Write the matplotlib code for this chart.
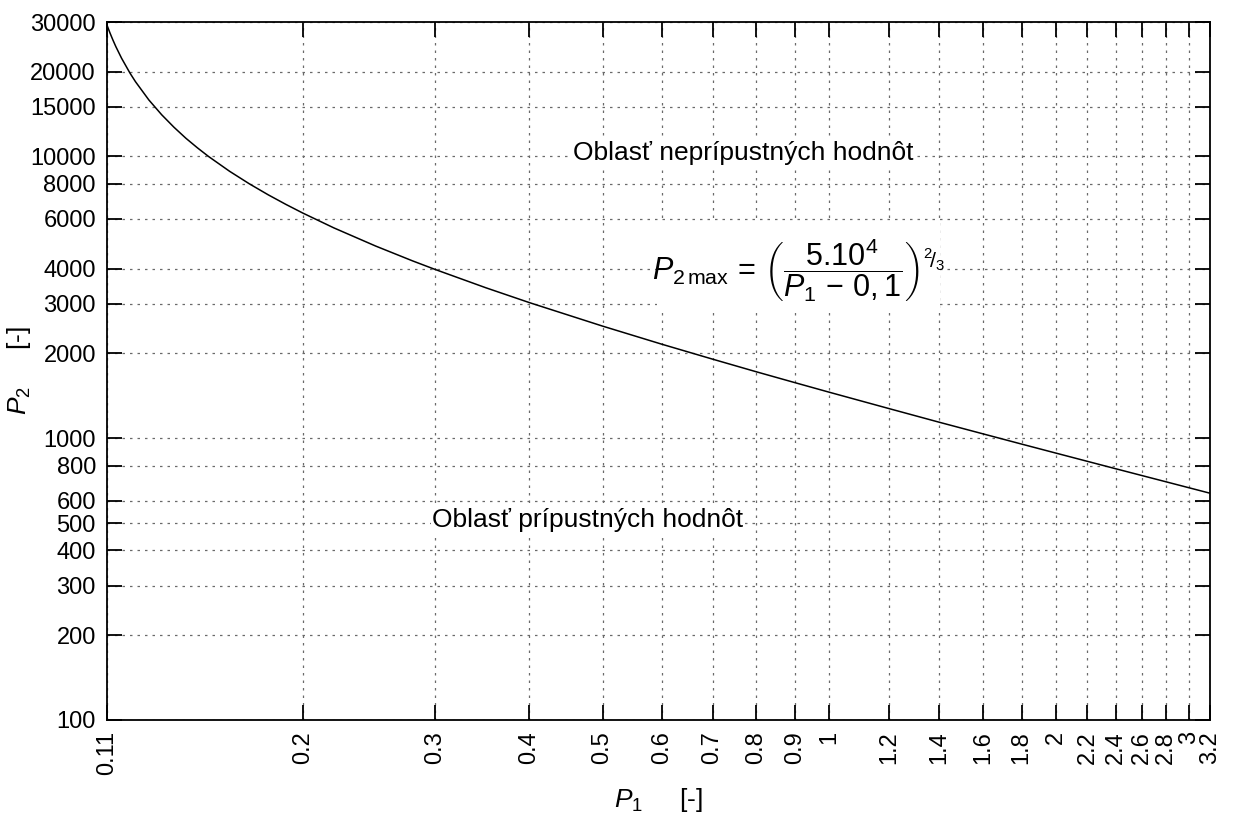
import numpy as np
import matplotlib
matplotlib.use("Agg")
import matplotlib.pyplot as plt
from matplotlib.patches import Rectangle

plt.rcParams['font.family'] = ['Liberation Sans', 'DejaVu Sans']
plt.rcParams['mathtext.fontset'] = 'custom'
plt.rcParams['mathtext.rm'] = 'Liberation Sans'
plt.rcParams['mathtext.it'] = 'Liberation Sans:italic'
plt.rcParams['mathtext.bf'] = 'Liberation Sans:bold'

# curve
p1 = [0.11, 0.111, 0.112, 0.113, 0.115, 0.118, 0.12, 0.125, 0.13, 0.135, 0.14,
      0.145, 0.15, 0.16, 0.17, 0.18, 0.19, 0.2, 0.22, 0.25, 0.28, 0.3, 0.35,
      0.4, 0.5, 0.6, 0.7, 0.8, 0.9, 1.0, 1.2, 1.4, 1.6, 1.8, 2.0, 2.4, 2.8, 3.2]
p2 = [29240, 27440, 25900, 24550, 22320, 19760, 18420, 15870, 14060, 12690, 11600,
      10730, 10000, 8856, 7991, 7310, 6759, 6300, 5578, 4808, 4257, 3969, 3420,
      3028, 2500, 2154, 1908, 1721, 1575, 1456, 1274, 1139, 1036, 953, 885, 779, 700, 638]

xticks = [0.11, 0.2, 0.3, 0.4, 0.5, 0.6, 0.7, 0.8, 0.9, 1, 1.2, 1.4, 1.6,
          1.8, 2, 2.2, 2.4, 2.6, 2.8, 3, 3.2]
xlabels = ["0.11", "0.2", "0.3", "0.4", "0.5", "0.6", "0.7", "0.8", "0.9", "1",
           "1.2", "1.4", "1.6", "1.8", "2", "2.2", "2.4", "2.6", "2.8", "3", "3.2"]
yticks = [100, 200, 300, 400, 500, 600, 800, 1000, 2000, 3000, 4000, 6000,
          8000, 10000, 15000, 20000, 30000]

fig = plt.figure(figsize=(12.54, 8.23), dpi=100)
ax = fig.add_axes([107/1254, 1-720/823, (1210-107)/1254, (720-22)/823])
ax.set_xscale('log')
ax.set_yscale('log')
ax.set_xlim(0.11, 3.2)
ax.set_ylim(100, 30000)

ax.plot(p1, p2, color='black', lw=1.1, zorder=3)

ax.minorticks_off()
ax.set_xticks(xticks)
ax.set_xticklabels(xlabels, rotation=90, va='top', ha='center')
ax.set_yticks(yticks)
ax.set_yticklabels([str(v) for v in yticks])
ax.tick_params(which='major', direction='in', length=11, width=1.3,
               top=True, right=True, labelsize=17, pad=8, color='black')
ax.grid(True, color='#6a6a6a', linestyle=(0, (2, 4)), lw=0.9)
for s in ax.spines.values():
    s.set_linewidth(1.3)

ax.set_xlabel(r"$P_1$     [-]", fontsize=19, labelpad=8)
ax.set_ylabel(r"$P_2$     [-]", fontsize=19, va='center')
ax.yaxis.set_label_coords(-0.08, 0.5)

ax.text(0.577, 0.812, "Oblasť neprípustných hodnôt", transform=ax.transAxes,
        fontsize=19, ha='center', va='center',
        bbox=dict(facecolor='white', edgecolor='none', pad=1), zorder=4)
ax.text(0.436, 0.2865, "Oblasť prípustných hodnôt", transform=ax.transAxes,
        fontsize=19, ha='center', va='center',
        bbox=dict(facecolor='white', edgecolor='none', pad=1), zorder=4)

# white panel behind the formula
ax.add_patch(Rectangle((0.4986, 0.583), 0.2566, 0.129, transform=ax.transAxes,
                       facecolor='white', edgecolor='none', zorder=2.5))
ax.text(0.627, 0.645,
        r"$P_{2\,\mathrm{max}}\,=\,\left(\dfrac{5.10^4}{P_1\,-\,0,1}\right)^{{}^2\!/_3}$",
        transform=ax.transAxes, fontsize=22, ha='center', va='center', zorder=4)

fig.savefig("out.png", dpi=100)
